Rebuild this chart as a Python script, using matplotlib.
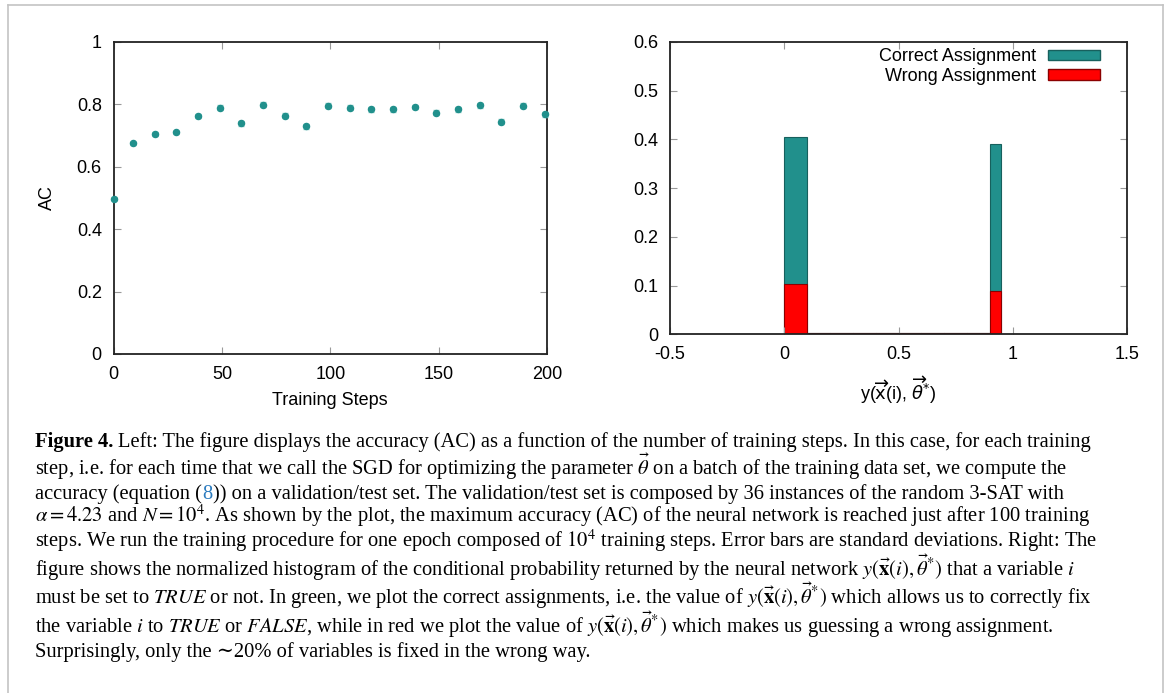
import matplotlib
matplotlib.use('Agg')
import matplotlib.pyplot as plt
from matplotlib.lines import Line2D
from matplotlib.patches import Patch

# Left panel: accuracy vs training steps
steps = [0, 9, 19, 29, 39, 49, 59, 69, 79, 89, 99, 109, 119, 129, 139, 149, 159, 169, 179, 189, 199]
acc = [0.498, 0.676, 0.705, 0.710, 0.763, 0.789, 0.739, 0.799, 0.764, 0.730, 0.796,
       0.790, 0.785, 0.785, 0.792, 0.774, 0.784, 0.798, 0.744, 0.795, 0.768]
acc_err = [0.004, 0.005, 0.005, 0.006, 0.007, 0.008, 0.007, 0.008, 0.008, 0.008, 0.008,
           0.007, 0.008, 0.008, 0.007, 0.008, 0.008, 0.008, 0.008, 0.008, 0.009]

# Right panel: normalized histogram of y(x(i), theta*)
bin_left = [0.0, 0.1, 0.2, 0.3, 0.4, 0.5, 0.6, 0.7, 0.8, 0.9]
bin_width = [0.1, 0.1, 0.1, 0.1, 0.1, 0.1, 0.1, 0.1, 0.1, 0.05]
correct = [0.406, 0.002, 0.002, 0.002, 0.002, 0.002, 0.002, 0.002, 0.002, 0.390]
wrong = [0.103, 0.002, 0.002, 0.002, 0.002, 0.002, 0.002, 0.002, 0.002, 0.089]

W, H = 1170, 693
teal = '#21908c'

fig = plt.figure(figsize=(W / 100, H / 100), dpi=100)
plt.rcParams['font.family'] = ['Liberation Sans', 'DejaVu Sans']


def box(x0, y0, x1, y1):
    # pixel box (top-left origin) -> figure fraction rect
    return [x0 / W, 1 - y1 / H, (x1 - x0) / W, (y1 - y0) / H]


def style(ax):
    for s in ax.spines.values():
        s.set_linewidth(1.3)
        s.set_color('#222222')
    ax.tick_params(direction='in', length=5, width=0.8, color='#999999',
                   top=True, right=True, labelsize=13, pad=8.5)


ax1 = fig.add_axes(box(113.6, 42, 547, 354))
ax1.errorbar(steps, acc, yerr=acc_err, fmt='o', color=teal, ms=4.4,
             ecolor='#8ccfcb', elinewidth=1.0, capsize=2, clip_on=False, zorder=3)
ax1.set_xlim(0, 200)
ax1.set_ylim(0, 1)
ax1.set_xticks([0, 50, 100, 150, 200])
ax1.set_yticks([0, 0.2, 0.4, 0.6, 0.8, 1.0])
ax1.set_yticklabels(['0', '0.2', '0.4', '0.6', '0.8', '1'])
style(ax1)
ax1.set_xlabel('Training Steps', fontsize=13)
ax1.set_ylabel('AC', fontsize=13)
ax1.xaxis.set_label_coords(0.5, -0.122)
ax1.yaxis.set_label_coords(-0.134, 0.5)

ax2 = fig.add_axes(box(670, 42, 1127, 334.3))
ax2.bar(bin_left, correct, width=bin_width, align='edge', color=teal,
        edgecolor='#17605d', linewidth=0.8, label='Correct Assignment')
ax2.bar(bin_left, wrong, width=bin_width, align='edge', color='#ff0000',
        edgecolor='#8b0000', linewidth=0.8, label='Wrong Assignment')
ax2.set_xlim(-0.5, 1.5)
ax2.set_ylim(0, 0.6)
ax2.set_xticks([-0.5, 0, 0.5, 1, 1.5])
ax2.set_xticklabels(['-0.5', '0', '0.5', '1', '1.5'])
ax2.set_yticks([0, 0.1, 0.2, 0.3, 0.4, 0.5, 0.6])
ax2.set_yticklabels(['0', '0.1', '0.2', '0.3', '0.4', '0.5', '0.6'])
style(ax2)
ax2.set_xlabel(r'y($\overrightarrow{\mathrm{x}}$(i), $\overrightarrow{\theta}^{*}$)',
               fontsize=13, math_fontfamily='dejavusans')
ax2.xaxis.set_label_coords(0.5, -0.136)
handles = [Patch(facecolor=teal, edgecolor='#17605d'),
           Patch(facecolor='#ff0000', edgecolor='#8b0000')]
ax2.legend(handles, ['Correct Assignment', 'Wrong Assignment'], loc='upper right',
           bbox_to_anchor=(0.941, 0.978), frameon=False, markerfirst=False,
           fontsize=13, handlelength=2.9, handleheight=0.55, handletextpad=0.65,
           borderaxespad=0, borderpad=0, labelspacing=0.15)

# gray frame around the figure
fr = dict(color='#c4c4c4', lw=1.2, transform=fig.transFigure)
fig.add_artist(Line2D([8 / W, 8 / W], [0, 1 - 4.5 / H], **fr))
fig.add_artist(Line2D([8 / W, 1163 / W], [1 - 4.5 / H, 1 - 4.5 / H], **fr))
fig.add_artist(Line2D([1163 / W, 1163 / W], [0, 1 - 4.5 / H], **fr))

# caption: each line is a list of (text, color, weight, gap before)
cap = dict(family=['Liberation Serif', 'DejaVu Serif'], fontsize=14.8,
           math_fontfamily='stix', va='baseline')
yvec = r'$y(\vec{\mathbf{x}}(i), \vec{\theta}^{*})$'
lines = [
    [('Figure 4.', 'black', 'bold', 0),
     ('Left: The figure displays the accuracy (AC) as a function of the number of training steps. In this case, for each training', 'black', 'normal', 5)],
    [(r'step, i.e. for each time that we call the SGD for optimizing the parameter $\vec{\theta}$ on a batch of the training data set, we compute the', 'black', 'normal', 0)],
    [('accuracy (equation (', 'black', 'normal', 0), ('8', '#2b7bbf', 'normal', 0.5),
     (')) on a validation/test set. The validation/test set is composed by 36 instances of the random 3-SAT with', 'black', 'normal', 0.5)],
    [(r'$\alpha = 4.23$ and $N = 10^4$. As shown by the plot, the maximum accuracy (AC) of the neural network is reached just after 100 training', 'black', 'normal', 0)],
    [(r'steps. We run the training procedure for one epoch composed of $10^4$ training steps. Error bars are standard deviations. Right: The', 'black', 'normal', 0)],
    [(r'figure shows the normalized histogram of the conditional probability returned by the neural network ' + yvec + r' that a variable $i$', 'black', 'normal', 0)],
    [(r'must be set to $\mathit{TRUE}$ or not. In green, we plot the correct assignments, i.e. the value of ' + yvec + r' which allows us to correctly fix', 'black', 'normal', 0)],
    [(r'the variable $i$ to $\mathit{TRUE}$ or $\mathit{FALSE}$, while in red we plot the value of ' + yvec + r' which makes us guessing a wrong assignment.', 'black', 'normal', 0)],
    [('Surprisingly, only the \u223c20% of variables is fixed in the wrong way.', 'black', 'normal', 0)],
]
baselines = [446.5, 475, 499, 522, 547, 576, 604, 633, 657]
x0 = 35
renderer = fig.canvas.get_renderer()
for segs, yb in zip(lines, baselines):
    x = x0
    for seg, col, wt, gap in segs:
        t = fig.text((x + gap) / W, 1 - yb / H, seg, color=col, weight=wt, **cap)
        x = t.get_window_extent(renderer).x1

fig.savefig('out.png', dpi=100)
